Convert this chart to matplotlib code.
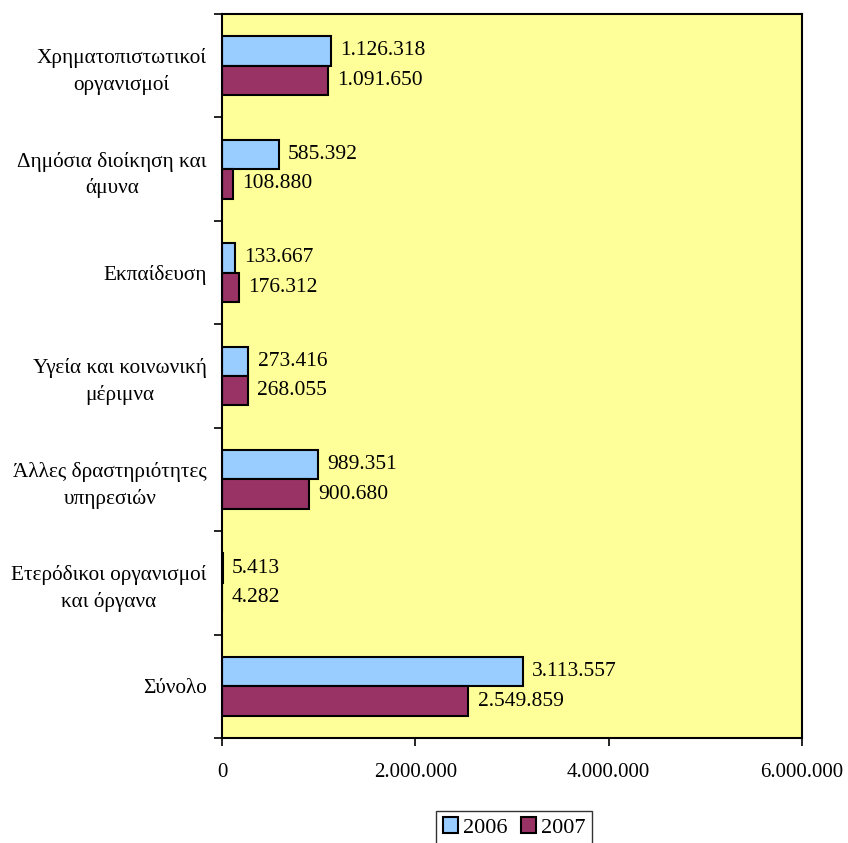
import numpy as np
import matplotlib
matplotlib.use("Agg")
import matplotlib.pyplot as plt
from matplotlib.ticker import FuncFormatter

categories = ["Χρηματοπιστωτικοί\nοργανισμοί", "Δημόσια διοίκηση και\nάμυνα", "Εκπαίδευση",
              "Υγεία και κοινωνική\nμέριμνα", "Άλλες δραστηριότητες\nυπηρεσιών",
              "Ετερόδικοι οργανισμοί\nκαι όργανα", "Σύνολο"]
v2006 = [1126318, 585392, 133667, 273416, 989351, 5413, 3113557]
v2007 = [1091650, 108880, 176312, 268055, 900680, 4282, 2549859]
series_labels = ["2006", "2007"]
xticks = [0, 2000000, 4000000, 6000000]

def dotfmt(v):
    return f"{int(v):,}".replace(",", ".")

plt.rcParams["font.family"] = ["Liberation Serif", "DejaVu Serif"]

fig = plt.figure(figsize=(8.48, 8.43), dpi=100)
ax = fig.add_axes([222/848, 1 - 738/843, 580/848, 724/843])
ax.set_facecolor("#FFFF99")

n = len(categories)
y = np.arange(n)
h = 0.285
b1 = ax.barh(y - h/2, v2006, height=h, color="#99CCFF", edgecolor="black", lw=1.5, label=series_labels[0])
b2 = ax.barh(y + h/2, v2007, height=h, color="#993366", edgecolor="black", lw=1.5, label=series_labels[1])
for bars, vals in ((b1, v2006), (b2, v2007)):
    for bar, v in zip(bars, vals):
        ax.text(v + 95000, bar.get_y() + bar.get_height()/2, dotfmt(v),
                va="center", ha="left", fontsize=15.5)

ax.set_ylim(n - 0.5, -0.5)
ax.set_xlim(0, 6000000)
ax.set_xticks(xticks)
ax.xaxis.set_major_formatter(FuncFormatter(lambda v, p: dotfmt(v)))
ax.set_yticks(np.arange(-0.5, n, 1.0))
ax.set_yticklabels([])
ax.set_yticks(y, minor=True)
ax.set_yticklabels(categories, minor=True, fontsize=15.3, ha="right",
                   multialignment="center", linespacing=1.45)
ax.tick_params(axis="y", which="minor", length=0, pad=11)
ax.tick_params(axis="y", which="major", length=6, width=1.2)
ax.tick_params(axis="x", length=6, width=1.2, labelsize=15, pad=12)
for s in ax.spines.values():
    s.set_linewidth(1.5)

leg = fig.legend(handles=[b1, b2], loc="lower center", bbox_to_anchor=(0.606, -0.015), ncol=2,
                 fontsize=16, frameon=True, fancybox=False, edgecolor="black",
                 handlelength=0.7, handleheight=0.7, handletextpad=0.2, columnspacing=0.6,
                 borderpad=0.3)
leg.get_frame().set_linewidth(1.0)

fig.savefig("out.png", dpi=100)
